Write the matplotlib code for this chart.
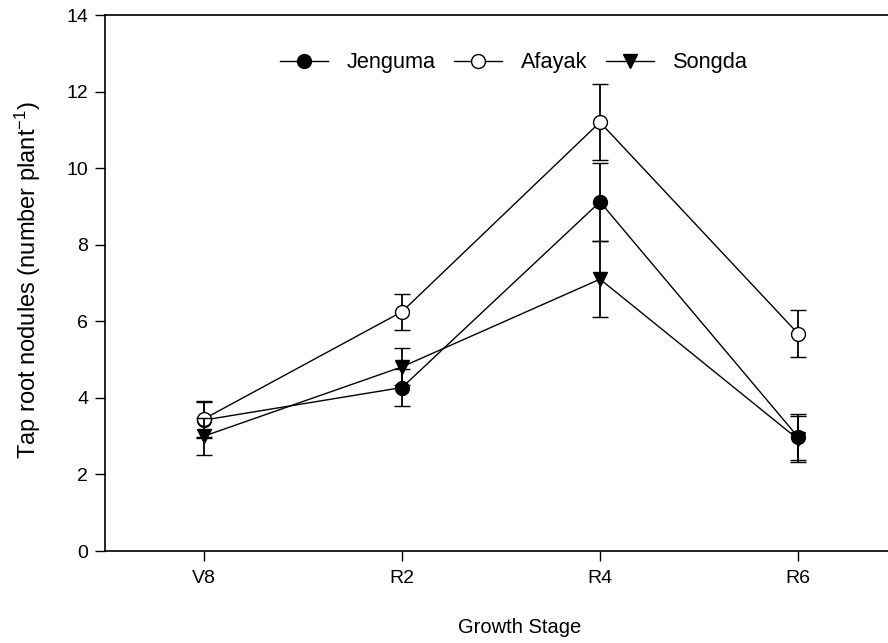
import matplotlib
matplotlib.use("Agg")
import matplotlib.pyplot as plt
from matplotlib.lines import Line2D
import numpy as np

plt.rcParams['font.family'] = ['Liberation Sans', 'DejaVu Sans']
plt.rcParams['mathtext.fontset'] = 'custom'
plt.rcParams['mathtext.rm'] = 'Liberation Sans'
plt.rcParams['mathtext.default'] = 'regular'

stages = ["V8", "R2", "R4", "R6"]

jenguma = [3.42, 4.27, 9.12, 2.98]
jenguma_err = [0.48, 0.48, 1.02, 0.60]

afayak = [3.45, 6.25, 11.20, 5.68]
afayak_err = [0.48, 0.47, 1.00, 0.61]

songda = [3.00, 4.81, 7.10, 2.92]
songda_err = [0.48, 0.48, 1.00, 0.60]

x = np.arange(1, len(stages) + 1)

fig = plt.figure(figsize=(8.88, 6.43), dpi=100)
ax = fig.add_axes([105 / 888, 1 - 551 / 643, (897 - 105) / 888, (551 - 15) / 643])

common = dict(color="black", lw=1.0, elinewidth=1.3, capsize=6, capthick=1.3,
              markersize=10, markeredgecolor="black", markeredgewidth=1.0)

series = [
    ("Jenguma", jenguma, jenguma_err, "o", "black"),
    ("Afayak", afayak, afayak_err, "o", "white"),
    ("Songda", songda, songda_err, "v", "black"),
]

handles = []
for i, (name, vals, errs, mk, face) in enumerate(series):
    ax.errorbar(x, vals, yerr=errs, fmt="-" + mk, markerfacecolor=face,
                zorder=3 + i, **common)
    handles.append(Line2D([], [], color="black", lw=1.0, marker=mk, markersize=10,
                          markerfacecolor=face, markeredgecolor="black",
                          markeredgewidth=1.0, label=name))

ax.set_xlim(0.5, 4.5)
ax.set_ylim(0, 14)
ax.set_yticks(np.arange(0, 15, 2))
ax.set_xticks(x)
ax.set_xticklabels(stages)

ax.spines["right"].set_visible(False)
for side in ("left", "bottom", "top"):
    ax.spines[side].set_linewidth(1.2)

ax.tick_params(axis="both", direction="out", length=7, width=1.0, labelsize=14)
ax.tick_params(axis="y", pad=5)
ax.tick_params(axis="x", pad=7)

ax.set_xlabel("Growth Stage", fontsize=14.5)
ax.xaxis.set_label_coords((520 - 105) / 792, -0.125)
ax.set_ylabel("Tap root nodules (number plant$^{-1}$)", fontsize=17)
ax.yaxis.set_label_coords(-0.078, 0.505)

fig.legend(handles=handles, ncol=3, loc="center",
           bbox_to_anchor=(514 / 888, 1 - 62.7 / 643), frameon=False,
           fontsize=15.7, handlelength=2.2, handletextpad=0.87, columnspacing=0.85)

fig.savefig("out.png", dpi=100)
